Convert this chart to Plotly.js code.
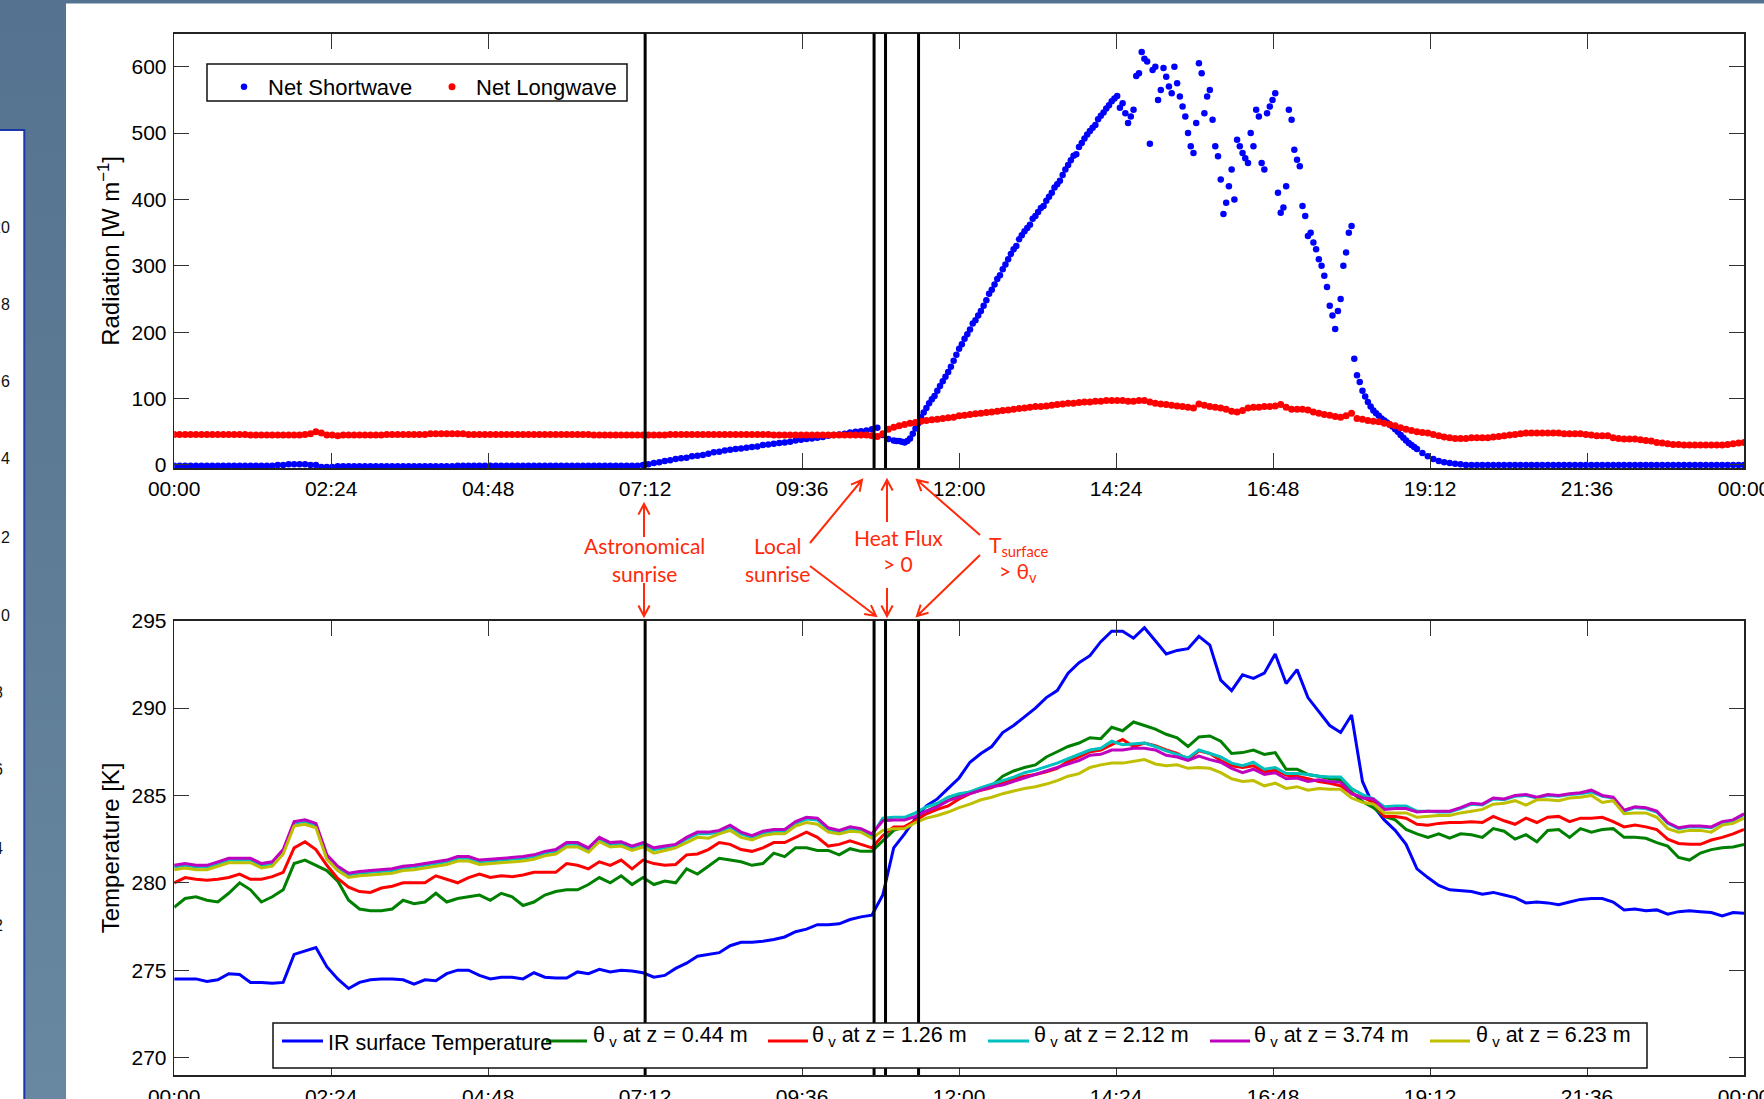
<!DOCTYPE html>
<html><head><meta charset="utf-8">
<script src="https://cdn.plot.ly/plotly-3.0.1.min.js"></script>
<style>
html,body{margin:0;padding:0;width:1764px;height:1099px;overflow:hidden;
background:linear-gradient(180deg,#557390 0%,#5d7b94 45%,#6887a0 100%);}
#chart{width:1764px;height:1099px;}
</style></head><body><div id="chart"></div>
<script>
// ---------------- DATA ----------------
const xTickVals = [0, 2.4, 4.8, 7.2, 9.6, 12, 14.4, 16.8, 19.2, 21.6, 24];
const xTickText = ["00:00","02:24","04:48","07:12","09:36","12:00","14:24","16:48","19:12","21:36","00:00"];
const radTickVals = [0,100,200,300,400,500,600];
const tempTickVals = [270,275,280,285,290,295];

// Radiation sampled every 5 minutes from 00:00 to 24:00 (W m-2)
const SW_STEP_H = 5/60;
const netShortwave = [
 -1,-1,-1,-1,-1,-1,-1,-1,-1,-1,-1,-1,
 -1,-1,-1,-1,-1,-1,-1,0,0,1,1,1,
 1,0,0,-3,-3,-3,-2,-2,-2,-2,-2,-2,
 -2,-2,-2,-2,-2,-2,-2,-2,-2,-2,-2,-2,
 -2,-2,-2,-2,-1,-1,-1,-1,-1,-1,-1,-1,
 -1,-1,-1,-1,-1,-1,-1,-1,-1,-1,-1,-1,
 -1,-1,-1,-1,-1,-1,-1,-1,-1,-1,-1,-1,
 -1,-1,0,1,3,4,6,7,9,10,11,13,
 14,15,17,19,20,22,23,24,25,26,27,28,
 30,31,32,33,34,35,37,38,39,40,41,42,
 44,45,46,47,49,50,51,52,54,56,45,39,
 37,36,34,40,55,72,86,99,112,126,140,157,
 175,190,204,218,232,248,264,280,295,310,325,340,
 352,362,375,387,398,410,423,437,452,466,479,492,
 503,512,526,537,548,556,545,515,535,590,612,484,
 600,565,585,560,575,540,500,470,605,530,565,480,
 430,395,445,490,470,455,480,525,445,540,560,380,
 420,520,460,390,345,335,310,285,240,205,250,320,
 360,135,112,95,82,74,67,61,54,45,37,30,
 24,18,13,9,6,4,3,2,1,0,0,0,
 0,0,0,0,0,0,0,0,0,0,0,0,
 0,0,0,0,0,0,0,0,0,0,0,0,
 0,0,0,0,0,0,0,0,0,0,0,0,
 0,0,0,0,0,0,0,0,0,0,0,0,
 0
];
// extra shortwave samples between 11:00 and 19:00, offset by 2.5 min from the 5-min grid
const SW_MID_START_H = 11 + 2.5/60;
const netShortwaveMid = [
 36,35,36,47,63,79,93,104,119,133,148,166,
 182,197,213,225,240,258,272,286,302,318,330,346,
 357,371,381,390,404,418,428,445,459,468,485,498,
 508,521,531,542,552,538,530,525,586,622,608,595,
 550,598,570,600,555,525,480,515,590,555,520,465,
 378,420,400,480,462,500,535,455,530,550,410,388,
 535,475,450,375,350,325,300,268,225,232,300,350,
 160,125,103,88,78,70,64,58,50,41,33,27
];
const netLongwave = [
 46,46,46,46,46,46,46,46,46,46,46,46,
 46,46,45,45,45,45,45,45,45,45,45,45,
 46,47,50,48,45,45,44,45,45,45,45,45,
 45,45,45,46,46,46,46,46,46,46,46,47,
 47,47,47,47,47,47,46,46,46,46,46,46,
 46,46,46,46,46,46,46,46,46,46,46,46,
 46,46,46,46,46,45,45,45,45,45,45,45,
 45,45,45,45,45,45,45,46,46,46,46,46,
 46,46,46,46,46,46,46,46,46,46,46,46,
 46,46,45,45,45,45,45,45,45,45,45,45,
 45,45,45,45,45,45,45,45,44,43,47,54,
 57,59,61,63,64,66,67,68,69,70,71,72,
 74,75,76,77,78,79,80,81,82,83,84,85,
 86,87,88,88,89,90,91,92,93,93,94,95,
 95,96,96,97,97,97,97,96,96,97,97,95,
 93,92,91,90,89,88,87,86,92,90,88,87,
 86,84,81,80,82,86,87,87,88,88,89,91,
 87,84,84,84,83,80,78,76,75,73,72,74,
 78,70,69,67,66,65,63,61,59,56,54,52,
 50,49,48,46,44,42,41,40,40,40,41,41,
 41,41,42,43,44,45,46,47,48,48,48,48,
 48,48,48,47,47,47,47,46,45,44,44,44,
 41,40,39,39,39,38,37,36,34,33,32,31,
 31,30,30,30,30,30,30,30,30,31,32,33,
 34
];

// Temperatures sampled every 10 minutes (K)
const T_STEP_H = 10/60;
const irSurface = [
 274.5,274.5,274.5,274.35,274.45,274.8,274.75,274.3,274.3,274.25,274.3,275.9,
 276.1,276.3,275.2,274.5,273.95,274.3,274.45,274.5,274.5,274.45,274.2,274.45,
 274.4,274.8,275.0,275.0,274.7,274.5,274.6,274.6,274.5,274.85,274.6,274.55,
 274.55,274.9,274.8,275.05,274.9,275.0,274.95,274.85,274.6,274.7,275.1,275.4,
 275.8,275.9,276.0,276.4,276.6,276.6,276.65,276.75,276.9,277.2,277.35,277.6,
 277.6,277.65,277.9,278.05,278.15,279.3,282.0,282.8,283.7,284.4,284.8,285.4,
 286.0,286.9,287.4,287.8,288.6,289.0,289.5,290.0,290.6,291.0,292.0,292.6,
 293.0,293.8,294.4,294.4,294.0,294.6,293.85,293.1,293.3,293.4,294.1,293.6,
 291.6,291.0,291.9,291.7,292.0,293.1,291.4,292.2,290.6,289.8,289.0,288.6,
 289.6,285.8,284.4,283.6,283.0,282.2,280.8,280.3,279.85,279.6,279.55,279.5,
 279.35,279.45,279.3,279.15,278.85,278.9,278.85,278.75,278.9,279.05,279.1,279.1,
 278.9,278.45,278.5,278.4,278.45,278.2,278.35,278.4,278.35,278.3,278.1,278.3,278.25
];
const thetaZ044 = [
 278.6,279.1,279.2,279.0,278.9,279.4,280.0,279.6,278.9,279.2,279.6,281.1,
 281.3,281.0,280.7,280.1,279.0,278.5,278.4,278.4,278.5,279.0,278.8,278.9,
 279.4,278.9,279.1,279.2,279.3,279.0,279.4,279.2,278.7,278.9,279.3,279.5,
 279.6,279.6,279.9,280.3,280.0,280.4,279.9,280.3,279.9,280.1,280.0,280.8,
 280.5,280.95,281.4,281.3,281.2,281.0,281.1,281.7,281.5,282.0,282.0,281.85,
 281.85,281.6,281.95,281.8,281.8,282.4,283.0,283.2,283.5,284.1,284.4,284.7,
 285.0,285.2,285.4,285.55,286.1,286.4,286.6,286.75,287.2,287.5,287.8,288.0,
 288.3,288.25,288.9,288.7,289.2,289.0,288.8,288.5,288.3,287.8,288.35,288.4,
 288.1,287.4,287.45,287.6,287.35,287.45,286.5,286.5,286.2,286.1,285.95,285.9,
 285.2,284.65,284.3,283.8,283.6,283.05,282.8,282.6,282.8,282.55,282.8,282.75,
 282.6,283.1,282.95,282.5,282.75,282.35,283.0,283.05,282.6,283.1,282.9,283.05,
 283.1,282.6,282.6,282.55,282.3,282.1,281.45,281.3,281.7,281.9,282.0,282.05,282.2
];
const thetaZ126 = [
 280.0,280.3,280.2,280.15,280.2,280.3,280.5,280.2,280.2,280.35,280.6,282.0,
 282.35,281.9,281.0,280.25,279.75,279.5,279.45,279.7,279.8,280.0,280.0,280.0,
 280.4,280.2,280.0,280.3,280.5,280.3,280.4,280.35,280.45,280.6,280.6,280.6,
 281.1,281.0,280.8,281.2,281.0,281.3,280.8,281.3,281.1,281.0,281.05,281.6,
 281.65,281.9,282.3,282.2,281.9,281.8,282.0,282.3,282.3,282.6,282.9,282.6,
 282.1,282.2,282.4,282.2,282.0,282.7,283.2,283.2,283.6,283.95,284.2,284.4,
 284.8,285.1,285.3,285.45,285.75,285.95,286.1,286.2,286.35,286.55,286.95,287.2,
 287.5,287.6,287.9,288.2,287.8,288.0,287.85,287.6,287.4,287.05,287.55,287.4,
 287.0,286.7,286.6,286.7,286.35,286.45,286.15,286.1,285.95,285.8,285.7,285.55,
 285.1,284.9,284.6,283.8,283.8,283.7,283.35,283.3,283.4,283.45,283.45,283.5,
 283.45,283.8,283.55,283.35,283.7,283.45,283.75,283.8,283.5,283.7,283.7,283.75,
 283.5,283.2,283.3,283.2,283.05,282.5,282.25,282.2,282.2,282.45,282.6,282.8,283.05
];
const thetaZ212 = [
 280.9,281.0,280.9,280.9,281.1,281.3,281.3,281.3,281.0,281.1,281.8,283.4,
 283.5,283.3,281.5,280.85,280.45,280.55,280.6,280.65,280.7,280.85,280.9,281.0,
 281.1,281.2,281.4,281.4,281.2,281.25,281.3,281.35,281.4,281.5,281.7,281.8,
 282.2,282.2,281.9,282.5,282.2,282.25,282.0,282.2,281.9,282.0,282.1,282.5,
 282.8,282.8,282.9,283.2,282.8,282.6,282.85,282.95,282.95,283.4,283.65,283.6,
 283.05,282.9,283.1,283.0,282.7,283.7,283.75,283.75,284.0,284.35,284.55,284.9,
 285.1,285.2,285.45,285.65,285.85,286.05,286.3,286.45,286.65,286.85,287.1,287.35,
 287.6,287.7,288.1,287.9,287.95,288.0,287.8,287.55,287.35,287.15,287.6,287.4,
 287.2,286.85,286.7,286.9,286.5,286.6,286.25,286.25,286.2,286.1,286.05,286.05,
 285.4,285.05,284.8,284.35,284.4,284.4,284.1,284.1,284.05,284.05,284.25,284.5,
 284.45,284.8,284.75,284.95,285.0,284.85,285.0,284.95,285.05,285.1,285.2,284.95,
 284.85,284.1,284.3,284.25,284.05,283.4,283.1,283.2,283.2,283.15,283.45,283.55,283.9
];
const thetaZ374 = [
 281.0,281.1,281.0,281.0,281.2,281.4,281.4,281.4,281.1,281.2,281.9,283.5,
 283.6,283.4,281.6,280.95,280.55,280.65,280.7,280.75,280.8,280.95,281.0,281.1,
 281.2,281.3,281.5,281.5,281.3,281.35,281.4,281.45,281.5,281.6,281.8,281.9,
 282.3,282.3,282.0,282.6,282.3,282.35,282.1,282.3,282.0,282.1,282.2,282.6,
 282.9,282.9,283.0,283.3,282.9,282.7,282.95,283.05,283.05,283.5,283.75,283.7,
 283.15,283.0,283.2,283.1,282.8,283.55,283.6,283.6,283.8,284.1,284.35,284.7,
 284.9,285.1,285.3,285.5,285.6,285.8,286.0,286.2,286.4,286.6,286.8,287.0,
 287.3,287.35,287.6,287.6,287.7,287.7,287.6,287.3,287.2,287.0,287.25,287.05,
 286.9,286.55,286.3,286.5,286.2,286.3,285.95,286.0,285.8,285.9,285.8,285.75,
 285.1,284.85,284.8,284.2,284.25,284.25,284.05,284.1,284.1,284.1,284.3,284.55,
 284.5,284.85,284.8,285.0,285.05,284.9,285.05,285.0,285.1,285.15,285.3,285.0,
 284.9,284.15,284.35,284.3,284.1,283.45,283.15,283.25,283.25,283.2,283.5,283.6,283.95
];
const thetaZ623 = [
 280.75,280.85,280.75,280.75,280.95,281.15,281.15,281.15,280.85,280.95,281.65,283.25,
 283.35,283.15,281.35,280.7,280.3,280.4,280.45,280.5,280.55,280.7,280.75,280.85,
 280.95,281.05,281.25,281.25,281.05,281.1,281.15,281.2,281.25,281.35,281.55,281.65,
 282.05,282.05,281.75,282.35,282.05,282.1,281.85,282.05,281.7,281.85,282.0,282.3,
 282.6,282.55,282.8,283.0,282.6,282.45,282.7,282.8,282.8,283.25,283.45,283.35,
 282.9,282.8,282.95,282.9,282.55,283.0,283.1,283.1,283.45,283.7,283.85,284.05,
 284.3,284.5,284.75,284.9,285.1,285.25,285.4,285.5,285.65,285.85,286.1,286.25,
 286.6,286.75,286.85,286.85,286.95,287.05,286.8,286.7,286.75,286.55,286.6,286.55,
 286.3,285.95,285.8,285.85,285.55,285.7,285.4,285.5,285.3,285.4,285.35,285.35,
 284.85,284.6,284.5,284.0,284.0,284.0,283.75,283.8,283.85,283.85,284.0,284.1,
 284.2,284.5,284.55,284.7,284.45,284.75,284.75,284.7,284.85,284.9,285.0,284.6,
 284.7,283.95,284.0,284.0,283.75,283.1,282.9,283.0,283.0,282.9,283.3,283.4,283.7
];
const tempSeries = [irSurface, thetaZ044, thetaZ126, thetaZ212, thetaZ374, thetaZ623];
const tempNames = ["IR surface Temperature","θ<sub> v</sub> at z = 0.44 m","θ<sub> v</sub> at z = 1.26 m",
                   "θ<sub> v</sub> at z = 2.12 m","θ<sub> v</sub> at z = 3.74 m","θ<sub> v</sub> at z = 6.23 m"];
const tempColors = ["#0000ff","#008000","#ff0000","#00bfbf","#bf00bf","#bfbf00"];
const radNames = ["Net Shortwave","Net Longwave"];
const radColors = ["#0000ff","#ff0000"];

// event times (hours): astronomical sunrise, local sunrise, heat flux > 0, Tsurface > theta_v
const eventTimes = [7.2, 10.70, 10.875, 11.38];
const eventLabels = [["Astronomical","sunrise"],["Local","sunrise"],["Heat Flux","> 0"],["T<sub>surface</sub>","> θ<sub>v</sub>"]];

// ---------------- LAYOUT HELPERS ----------------
const W = 1764, H = 1099;
const px = x => x / W;
const py = y => 1 - y / H;
const FONT = "Liberation Sans, Arial, Helvetica, sans-serif";
const RFONT = "Lato, 'Open Sans', sans-serif";
const RED = "#ff2a0a";

const XL = 174.2, XR = 1744;
const topDom = [py(468.3), py(33.5)];
const botDom = [py(1075), py(620.7)];

const axCommon = {
  showline: true, linecolor: "#222", linewidth: 1.5, mirror: "ticks",
  ticks: "inside", ticklen: 15, tickwidth: 1, tickcolor: "#333",
  showgrid: false, zeroline: false, fixedrange: true,
  tickfont: {family: FONT, size: 21, color: "#000"}
};

// ---------------- TRACES ----------------
const traces = [];
traces.push({type: "scatter", mode: "markers", name: radNames[0], legend: "legend",
  x: netShortwave.map((_, i) => i * SW_STEP_H), y: netShortwave,
  xaxis: "x", yaxis: "y", marker: {color: radColors[0], size: 6.5}, hoverinfo: "skip"});
traces.push({type: "scatter", mode: "markers", name: radNames[0], showlegend: false,
  x: netShortwaveMid.map((_, i) => SW_MID_START_H + i * SW_STEP_H), y: netShortwaveMid,
  xaxis: "x", yaxis: "y", marker: {color: radColors[0], size: 6.5}, hoverinfo: "skip"});
traces.push({type: "scatter", mode: "markers", name: radNames[1], legend: "legend",
  x: netLongwave.map((_, i) => i * SW_STEP_H), y: netLongwave,
  xaxis: "x", yaxis: "y", marker: {color: radColors[1], size: 7}, hoverinfo: "skip"});
tempSeries.forEach((s, k) => {
  traces.push({type: "scatter", mode: "lines", name: tempNames[k], showlegend: false,
    x: s.map((_, i) => i * T_STEP_H), y: s, xaxis: "x2", yaxis: "y2",
    line: {color: tempColors[k], width: 3}, hoverinfo: "skip"});
});

// ---------------- SHAPES ----------------
const shapes = [];
shapes.push({type: "rect", xref: "paper", yref: "paper", x0: px(66), x1: px(1770), y0: py(3.5), y1: py(1105),
  fillcolor: "#ffffff", line: {width: 0}, layer: "below"});
shapes.push({type: "rect", xref: "paper", yref: "paper", x0: px(-5), x1: px(24.3), y0: py(130), y1: py(1105),
  fillcolor: "#ffffff", line: {color: "#1a36a8", width: 2}, layer: "below"});
eventTimes.forEach(t => {
  shapes.push({type: "line", xref: "x", yref: "y domain", x0: t, x1: t, y0: 0, y1: 1, line: {color: "#000", width: 3}});
  shapes.push({type: "line", xref: "x2", yref: "y2 domain", x0: t, x1: t, y0: 0, y1: 1, line: {color: "#000", width: 3}});
});
// top legend frame
shapes.push({type: "rect", xref: "paper", yref: "paper", x0: px(207), x1: px(627), y0: py(101), y1: py(64),
  fillcolor: "#ffffff", line: {color: "#111", width: 1.5}});
// red arrows (pixel coordinates of tail -> head)
const arrows = [[644,537,644,504],[644,583,644,616],[810,543,862,480],[810,566,876,616],
                [887,522,887,480],[887,588,887,616],[980,535,917,480],[980,555,917,616]];
arrows.forEach(([x1,y1,x2,y2]) => {
  const dx = x2-x1, dy = y2-y1, L = Math.hypot(dx,dy), ux = dx/L, uy = dy/L;
  const a = 28*Math.PI/180, hl = 12;
  const h1x = x2 - hl*(ux*Math.cos(a) - uy*Math.sin(a)), h1y = y2 - hl*(uy*Math.cos(a) + ux*Math.sin(a));
  const h2x = x2 - hl*(ux*Math.cos(a) + uy*Math.sin(a)), h2y = y2 - hl*(uy*Math.cos(a) - ux*Math.sin(a));
  const p = (x,y) => px(x).toFixed(5) + "," + py(y).toFixed(5);
  shapes.push({type: "path", xref: "paper", yref: "paper",
    path: "M" + p(x1,y1) + " L" + p(x2,y2) + " M" + p(h1x,h1y) + " L" + p(x2,y2) + " L" + p(h2x,h2y),
    line: {color: RED, width: 2}});
});
// bottom legend box + line samples
shapes.push({type: "rect", xref: "paper", yref: "paper", x0: px(273), x1: px(1647), y0: py(1068), y1: py(1023),
  fillcolor: "#ffffff", line: {color: "#111", width: 1.5}});
const legX = [[282,323],[546,587],[768,808],[988,1029],[1210,1250],[1430,1470]];
const legTextX = [326.5, 592, 811, 1033, 1253, 1475];
legX.forEach(([a,b], k) => {
  shapes.push({type: "line", xref: "paper", yref: "paper", x0: px(a), x1: px(b), y0: py(1041), y1: py(1041),
    line: {color: tempColors[k], width: 3}});
});

// ---------------- ANNOTATIONS ----------------
const annotations = [];
const redPos = [[[644,545],[644,573]],[[777,545],[777,573]],[[898,537],[898,563]],[[1019,546],[1018,572]]];
eventLabels.forEach((lines, k) => {
  lines.forEach((txt, j) => {
    annotations.push({xref: "paper", yref: "paper", x: px(redPos[k][j][0]), y: py(redPos[k][j][1]),
      xanchor: "center", yanchor: "middle", text: txt, showarrow: false, borderpad: 0,
      font: {family: RFONT, size: 21, color: RED}});
  });
});
tempNames.forEach((nm, k) => {
  annotations.push({xref: "paper", yref: "paper", x: px(legTextX[k]), y: py(k === 0 ? 1043 : 1036),
    xanchor: "left", yanchor: "middle", text: nm, showarrow: false, borderpad: 0,
    font: {family: FONT, size: 21.5, color: "#000"}});
});
const sideLabels = [["20",228],["8",304],["6",382],["4",459],["2",537],["0",615]];
sideLabels.forEach(([t,y]) => annotations.push({xref: "paper", yref: "paper", x: px(10.5), y: py(y),
  xanchor: "right", yanchor: "middle", text: t, showarrow: false, borderpad: 0, font: {family: FONT, size: 16, color: "#111"}}));
const sideLabels2 = [["8",692],["6",769],["4",848],["2",925]];
sideLabels2.forEach(([t,y]) => annotations.push({xref: "paper", yref: "paper", x: px(3.5), y: py(y),
  xanchor: "right", yanchor: "middle", text: t, showarrow: false, borderpad: 0, font: {family: FONT, size: 16, color: "#111"}}));

const layout = {
  width: W, height: H, margin: {l: 0, r: 0, t: 0, b: 0, pad: 0},
  paper_bgcolor: "rgba(0,0,0,0)", plot_bgcolor: "#ffffff",
  showlegend: true,
  xaxis: Object.assign({}, axCommon, {domain: [px(XL), px(XR)], anchor: "y", range: [0, 24],
    tickmode: "array", tickvals: xTickVals, ticktext: xTickText, ticklabelstandoff: 1, ticklabeloverflow: "allow"}),
  yaxis: Object.assign({}, axCommon, {domain: topDom, anchor: "x", range: [-5, 650],
    tickmode: "array", tickvals: radTickVals, ticklabelstandoff: 2,
    title: {text: "Radiation [W m<sup>−1</sup>]", font: {family: FONT, size: 24, color: "#000"}, standoff: 5}}),
  xaxis2: Object.assign({}, axCommon, {domain: [px(XL), px(XR)], anchor: "y2", range: [0, 24],
    tickmode: "array", tickvals: xTickVals, ticktext: xTickText, ticklabelstandoff: 2, ticklabeloverflow: "allow"}),
  yaxis2: Object.assign({}, axCommon, {domain: botDom, anchor: "x2", range: [269, 295],
    tickmode: "array", tickvals: tempTickVals, ticklabelstandoff: 2,
    title: {text: "Temperature [K]", font: {family: FONT, size: 24, color: "#000"}, standoff: 5}}),
  legend: {x: px(220), y: py(66), xanchor: "left", yanchor: "top", orientation: "h",
    bgcolor: "rgba(0,0,0,0)", borderwidth: 0, itemwidth: 38, entrywidth: 155, entrywidthmode: "pixels",
    font: {family: FONT, size: 22, color: "#000"}},
  shapes: shapes, annotations: annotations
};

Plotly.newPlot("chart", traces, layout, {staticPlot: true, displayModeBar: false});
</script></body></html>
